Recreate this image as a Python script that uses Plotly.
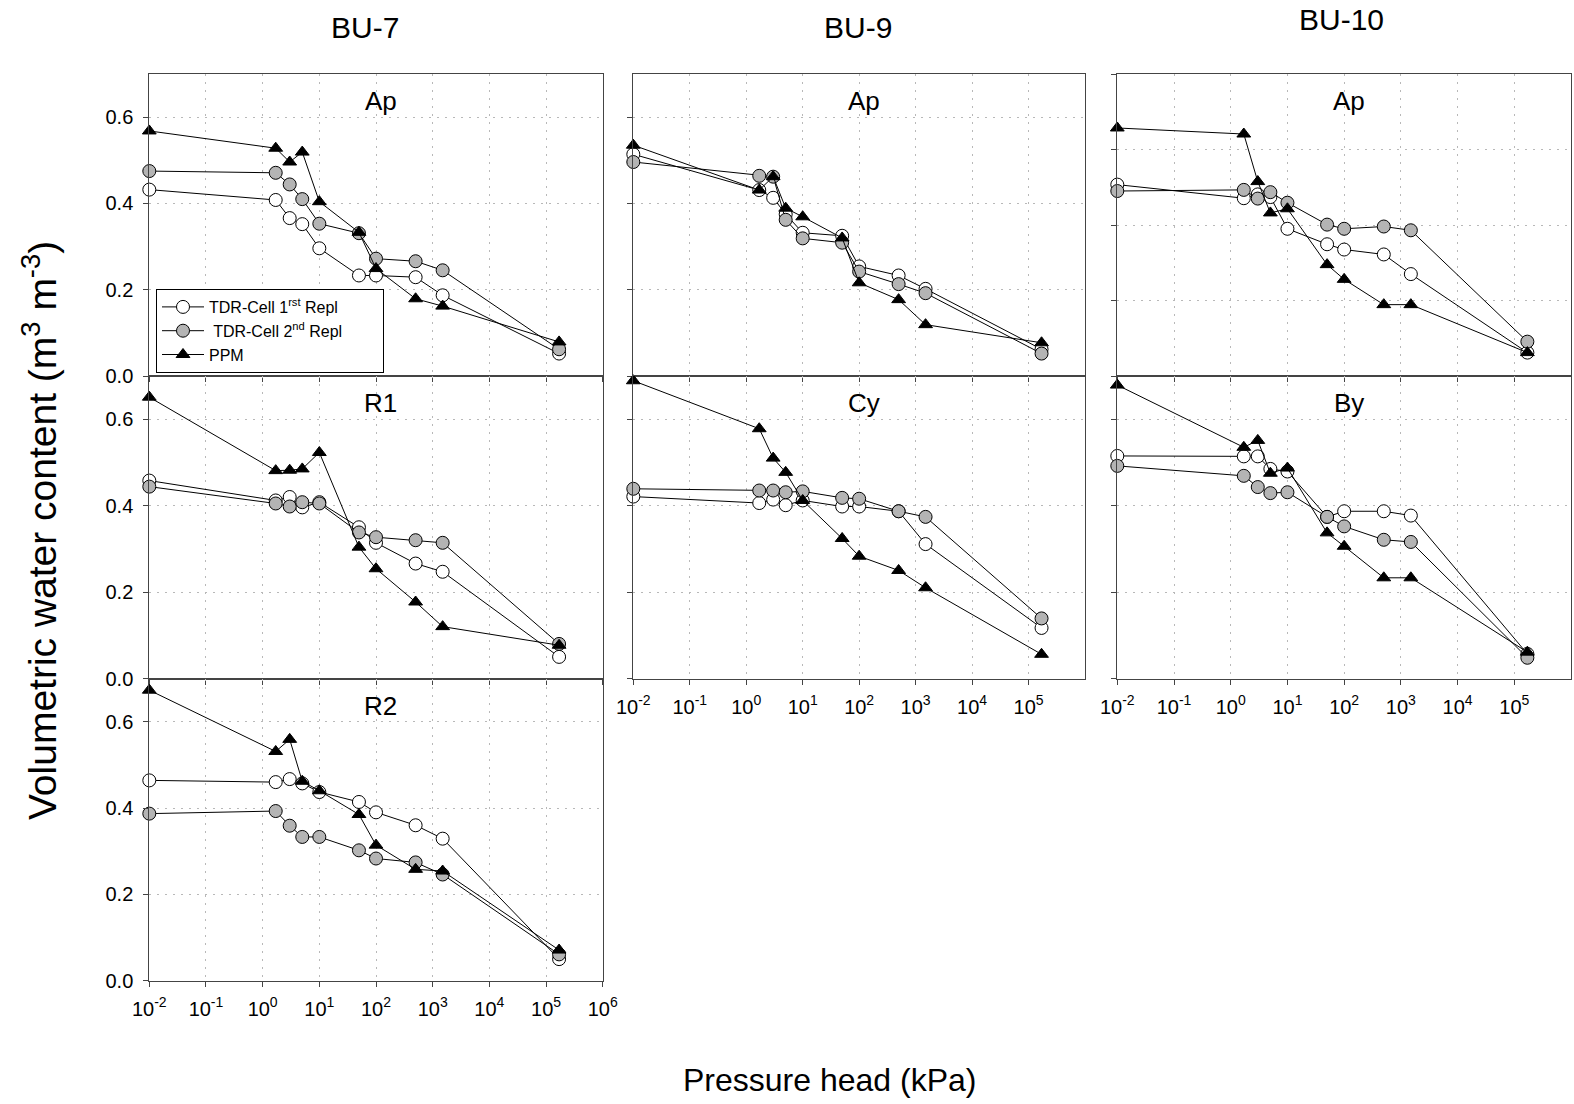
import plotly.graph_objects as go

# ---------------- data ----------------
pressure_kpa = [0.01, 1.7, 3, 5, 10, 50, 100, 500, 1500, 170000]

series_names = ["TDR-Cell 1<sup>rst</sup> Repl", " TDR-Cell 2<sup>nd</sup> Repl", "PPM"]
site_titles = ["BU-7", "BU-9", "BU-10"]

# BU-7
bu7_ap_tdr1 = [0.432, 0.408, 0.366, 0.352, 0.296, 0.233, 0.233, 0.229, 0.187, 0.052]
bu7_ap_tdr2 = [0.475, 0.471, 0.444, 0.410, 0.353, 0.331, 0.272, 0.266, 0.245, 0.062]
bu7_ap_ppm = [0.568, 0.528, 0.496, 0.519, 0.404, 0.333, 0.249, 0.179, 0.162, 0.079]

bu7_r1_tdr1 = [0.458, 0.412, 0.420, 0.396, 0.408, 0.350, 0.314, 0.266, 0.247, 0.050]
bu7_r1_tdr2 = [0.444, 0.405, 0.398, 0.408, 0.405, 0.338, 0.327, 0.320, 0.314, 0.080]
bu7_r1_ppm = [0.651, 0.481, 0.482, 0.485, 0.523, 0.304, 0.254, 0.177, 0.120, 0.077]

bu7_r2_tdr1 = [0.464, 0.460, 0.467, 0.457, 0.437, 0.414, 0.390, 0.360, 0.329, 0.050]
bu7_r2_tdr2 = [0.387, 0.393, 0.359, 0.333, 0.333, 0.302, 0.283, 0.274, 0.246, 0.061]
bu7_r2_ppm = [0.673, 0.531, 0.559, 0.462, 0.440, 0.385, 0.314, 0.258, 0.254, 0.071]

# BU-9
bu9_ap_tdr1 = [0.514, 0.431, 0.413, 0.375, 0.332, 0.325, 0.254, 0.233, 0.202, 0.062]
bu9_ap_tdr2 = [0.496, 0.464, 0.462, 0.362, 0.319, 0.309, 0.242, 0.213, 0.192, 0.052]
bu9_ap_ppm = [0.535, 0.431, 0.462, 0.389, 0.369, 0.320, 0.216, 0.177, 0.119, 0.077]

bu9_cy_tdr1 = [0.421, 0.406, 0.414, 0.401, 0.412, 0.398, 0.398, 0.387, 0.311, 0.117]
bu9_cy_tdr2 = [0.439, 0.435, 0.435, 0.431, 0.433, 0.418, 0.416, 0.387, 0.374, 0.139]
bu9_cy_ppm = [0.689, 0.578, 0.510, 0.477, 0.412, 0.324, 0.283, 0.250, 0.210, 0.056]

# BU-10
bu10_ap_tdr1 = [0.507, 0.471, 0.481, 0.474, 0.390, 0.349, 0.335, 0.322, 0.270, 0.062]
bu10_ap_tdr2 = [0.490, 0.493, 0.470, 0.487, 0.459, 0.401, 0.390, 0.396, 0.386, 0.091]
bu10_ap_ppm = [0.657, 0.641, 0.515, 0.432, 0.443, 0.295, 0.256, 0.189, 0.189, 0.062]

bu10_by_tdr1 = [0.515, 0.514, 0.514, 0.485, 0.479, 0.374, 0.387, 0.387, 0.377, 0.057]
bu10_by_tdr2 = [0.492, 0.469, 0.443, 0.429, 0.431, 0.374, 0.352, 0.321, 0.316, 0.048]
bu10_by_ppm = [0.679, 0.535, 0.551, 0.475, 0.487, 0.337, 0.306, 0.233, 0.233, 0.061]

x_tick_exps = [-2, -1, 0, 1, 2, 3, 4, 5, 6]
y_ticks = [0.0, 0.2, 0.4, 0.6, 0.8]

# ---------------- layout geometry ----------------
W, H = 1574, 1104
cols_px = [(149.3, 602.7), (633.3, 1085.0), (1117.3, 1571.0)]
rows_px = [(74.0, 376.0), (376.0, 678.5), (678.5, 980.7)]

# panel: (col, row, label, tdr1, tdr2, ppm, ymax, show_x_labels, show_y_labels)
panels = [
    (0, 0, "Ap", bu7_ap_tdr1, bu7_ap_tdr2, bu7_ap_ppm, 0.7, False, True),
    (1, 0, "Ap", bu9_ap_tdr1, bu9_ap_tdr2, bu9_ap_ppm, 0.7, False, False),
    (2, 0, "Ap", bu10_ap_tdr1, bu10_ap_tdr2, bu10_ap_ppm, 0.8, False, False),
    (0, 1, "R1", bu7_r1_tdr1, bu7_r1_tdr2, bu7_r1_ppm, 0.7, False, True),
    (1, 1, "Cy", bu9_cy_tdr1, bu9_cy_tdr2, bu9_cy_ppm, 0.7, True, False),
    (2, 1, "By", bu10_by_tdr1, bu10_by_tdr2, bu10_by_ppm, 0.7, True, False),
    (0, 2, "R2", bu7_r2_tdr1, bu7_r2_tdr2, bu7_r2_ppm, 0.7, True, True),
]

FONT = "Arial, Liberation Sans, sans-serif"
LINE_C = "#444444"
GRID_C = "#b8b8b8"
GRAY_FILL = "#b4b4b4"

fig = go.Figure()
annotations = []
layout_axes = {}

for i, (c, r, label, t1, t2, pp, ymax, sx, sy) in enumerate(panels):
    n = "" if i == 0 else str(i + 1)
    xa, ya = "x" + n, "y" + n
    x0, x1 = cols_px[c]
    y0, y1 = rows_px[r]
    xdom = [x0 / W, x1 / W]
    ydom = [1 - y1 / H, 1 - y0 / H]

    exps = x_tick_exps if c == 0 else x_tick_exps[:-1]
    layout_axes["xaxis" + n] = dict(
        domain=xdom, anchor=ya, type="log", range=[-2, 6],
        tickvals=[10 ** e for e in exps],
        ticktext=["10<sup>%d</sup>" % e for e in exps],
        showticklabels=sx, ticks="outside", ticklen=5, tickcolor=LINE_C,
        ticklabelstandoff=5,
        showline=True, linecolor=LINE_C, linewidth=1, mirror=True,
        showgrid=True, gridcolor=GRID_C, griddash="2px,6px", gridwidth=1,
        zeroline=False, automargin=False,
        tickfont=dict(family=FONT, size=20, color="black"),
    )
    layout_axes["yaxis" + n] = dict(
        domain=ydom, anchor=xa, range=[0, ymax],
        tickvals=[v for v in y_ticks if v <= ymax + 1e-9],
        tickformat=".1f",
        showticklabels=sy, ticks="outside", ticklen=5, tickcolor=LINE_C,
        ticklabelstandoff=6,
        showline=True, linecolor=LINE_C, linewidth=1, mirror=True,
        showgrid=True, gridcolor=GRID_C, griddash="2px,6px", gridwidth=1,
        zeroline=False, automargin=False,
        tickfont=dict(family=FONT, size=20, color="black"),
    )

    styles = [
        (t1, dict(symbol="circle", size=13, color="white", line=dict(color="black", width=1))),
        (t2, dict(symbol="circle", size=13, color=GRAY_FILL, line=dict(color="black", width=1))),
        (pp, dict(symbol="triangle-up", size=12, color="black", line=dict(color="black", width=1))),
    ]
    for k, (vals, mk) in enumerate(styles):
        fig.add_trace(go.Scatter(
            x=pressure_kpa, y=vals, mode="lines+markers",
            name=series_names[k] + "&nbsp;" * 8, legendgroup=str(k), showlegend=(i == 0),
            line=dict(color="black", width=1), marker=mk,
            xaxis=xa, yaxis=ya, cliponaxis=False,
        ))

    annotations.append(dict(
        text=label, xref="paper", yref="paper",
        x=(x0 + x1) / 2 / W + 0.003, y=1 - (y0 + 27) / H,
        xanchor="center", yanchor="middle", showarrow=False,
        font=dict(family=FONT, size=26, color="black"),
    ))

# column titles
for t, (px, py) in zip(site_titles, [(365, 27), (858, 27), (1341, 20)]):
    annotations.append(dict(
        text=t, xref="paper", yref="paper", x=px / W, y=1 - py / H,
        xanchor="center", yanchor="middle", showarrow=False,
        font=dict(family="Liberation Sans Narrow, Arial Narrow, " + FONT, size=30, color="black"),
    ))

# axis titles
annotations.append(dict(
    text="Pressure head (kPa)", xref="paper", yref="paper",
    x=829 / W, y=1 - 1080 / H, xanchor="center", yanchor="middle",
    showarrow=False, font=dict(family=FONT, size=32, color="black"),
))
annotations.append(dict(
    text="Volumetric water content (m<sup>3</sup> m<sup>-3</sup>)",
    xref="paper", yref="paper", x=39 / W, y=1 - 531 / H,
    xanchor="center", yanchor="middle", textangle=-90,
    showarrow=False, font=dict(family=FONT, size=39, color="black"),
))

fig.update_layout(
    width=W, height=H, autosize=False,
    margin=dict(l=0, r=0, t=0, b=0, pad=0, autoexpand=False),
    paper_bgcolor="white", plot_bgcolor="white",
    annotations=annotations,
    legend=dict(
        x=156 / W, y=1 - 289 / H, xanchor="left", yanchor="top",
        bgcolor="white", bordercolor="black", borderwidth=1,
        font=dict(family=FONT, size=16, color="black"),
        tracegroupgap=0, itemwidth=42,
    ),
    **layout_axes,
)

fig.write_html("out.html", config={"responsive": False})
